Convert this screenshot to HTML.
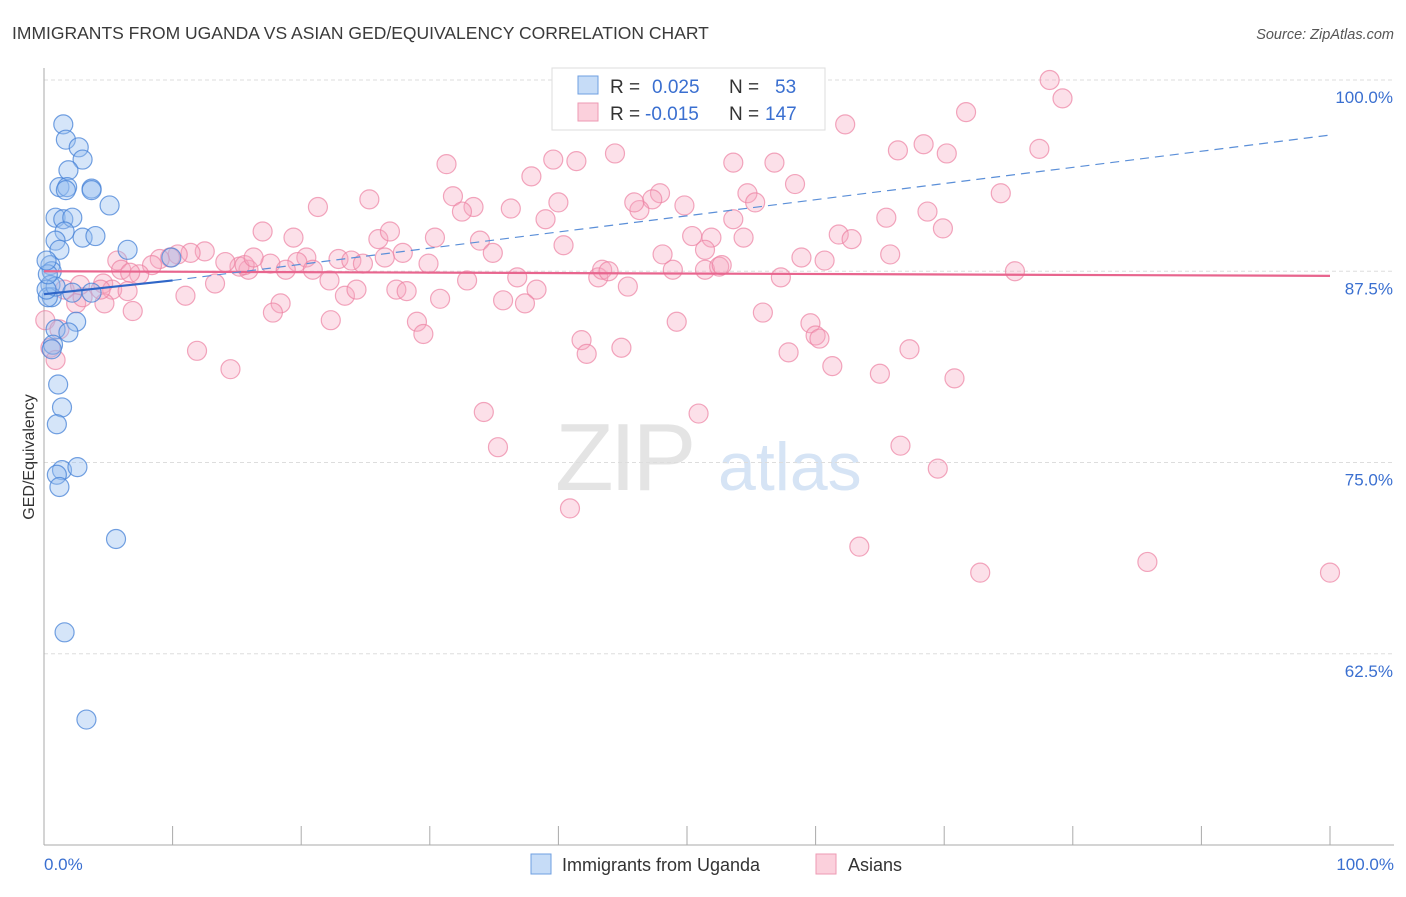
<!DOCTYPE html>
<html><head><meta charset="utf-8"><style>
body{margin:0;background:#fff;font-family:"Liberation Sans",sans-serif;}
svg text{font-family:"Liberation Sans",sans-serif;}
</style></head><body>
<svg id="chart" width="1406" height="892" viewBox="0 0 1406 892" xmlns="http://www.w3.org/2000/svg">
<text x="12" y="39" font-size="17.5" fill="#3a3a3a">IMMIGRANTS FROM UGANDA VS ASIAN GED/EQUIVALENCY CORRELATION CHART</text>
<text x="1394" y="39" font-size="14.5" fill="#555" font-style="italic" text-anchor="end">Source: ZipAtlas.com</text>
<g>
<text x="555" y="490" font-size="96" fill="#e4e4e4" font-family="Liberation Serif" letter-spacing="-4">ZIP</text>
<text x="718" y="490" font-size="68" fill="#d6e4f5">atlas</text>
</g>
<g id="grid"></g>
<g id="axes"></g>
<g id="pinkPts"></g>
<g id="bluePts"></g>
<g id="trends"></g>
<text transform="translate(34,457) rotate(-90)" font-size="16" fill="#333" text-anchor="middle">GED/Equivalency</text>
<g>
<rect x="552" y="68" width="273" height="62" fill="#fff" stroke="#ddd"/>
<rect x="578" y="76" width="20" height="18" fill="#c6dcf7" stroke="#6f9fe0"/>
<rect x="578" y="103" width="20" height="18" fill="#fbd0dc" stroke="#ee9ab3"/>
<text x="610" y="93" font-size="19" fill="#333">R = </text><text x="652" y="93" font-size="19" fill="#3a6fd0">0.025</text>
<text x="729" y="93" font-size="19" fill="#333">N = </text><text x="775" y="93" font-size="19" fill="#3a6fd0">53</text>
<text x="610" y="120" font-size="19" fill="#333">R = </text><text x="645" y="120" font-size="19" fill="#3a6fd0">-0.015</text>
<text x="729" y="120" font-size="19" fill="#333">N = </text><text x="765" y="120" font-size="19" fill="#3a6fd0">147</text>
</g>
<g>
<rect x="531" y="854" width="20" height="20" fill="#c6dcf7" stroke="#6f9fe0"/>
<text x="562" y="871" font-size="18" fill="#333">Immigrants from Uganda</text>
<rect x="816" y="854" width="20" height="20" fill="#fbd0dc" stroke="#ee9ab3"/>
<text x="848" y="871" font-size="18" fill="#333">Asians</text>
</g>
</svg>
<script>
const yTicks=[100,87.5,75,62.5];
const yTickLabels=["100.0%","87.5%","75.0%","62.5%"];
const xTickLabels=["0.0%","100.0%"];
const blueX=[1.5,1.7,2.7,3.0,1.9,1.2,1.8,1.7,3.7,3.7,5.1,0.9,1.5,2.2,1.6,0.9,3.0,4.0,1.2,6.5,9.9,0.5,0.6,0.5,0.6,0.3,0.9,2.2,3.7,2.5,0.9,1.9,0.7,0.6,1.1,1.4,1.0,1.4,2.6,1.0,1.2,5.6,1.6,3.3,0.2,0.3,0.2];
const blueY=[97.1,96.1,95.6,94.8,94.1,93.0,93.0,92.8,92.9,92.8,91.8,91.0,90.9,91.0,90.1,89.5,89.7,89.8,88.9,88.9,88.4,87.9,87.5,86.6,85.8,85.8,86.5,86.1,86.1,84.2,83.7,83.5,82.7,82.4,80.1,78.6,77.5,74.5,74.7,74.2,73.4,70.0,63.9,58.2,86.3,87.3,88.2];
const pinkX=[78.2,79.2,71.7,62.3,77.4,68.4,66.4,70.2,53.6,56.8,44.4,39.6,41.4,31.3,37.9,58.4,54.7,55.3,74.4,47.9,47.3,46.3,45.9,49.8,53.6,65.5,68.7,69.9,25.3,31.8,33.4,32.5,36.3,39.0,40.0,21.3,17.0,19.4,26.0,26.9,30.4,33.9,40.4,50.4,51.9,54.4,61.8,62.8,34.9,27.9,26.5,22.9,23.9,24.8,20.4,19.7,17.6,18.8,20.9,15.9,15.2,14.1,12.5,11.4,10.4,9.8,9.0,8.4,5.7,6.0,7.4,6.7,4.6,5.3,6.5,4.7,2.5,3.0,6.9,11.0,13.3,15.6,16.3,22.2,23.4,24.3,27.4,28.2,29.9,30.8,32.9,35.7,36.8,38.3,37.4,43.1,43.4,43.9,45.4,48.9,51.4,48.1,51.4,52.5,52.7,57.3,58.9,60.7,65.8,75.5,18.4,17.8,22.3,29.0,29.5,41.8,42.2,44.9,49.2,55.9,57.9,59.6,60.0,60.3,61.3,65.0,67.3,70.8,11.9,14.5,34.2,35.3,50.9,66.6,69.5,40.9,63.4,72.8,85.8,100.0,0.1,0.5,1.2,0.9,1.6,4.4,2.8];
const pinkY=[100.0,98.8,97.9,97.1,95.5,95.8,95.4,95.2,94.6,94.6,95.2,94.8,94.7,94.5,93.7,93.2,92.6,92.0,92.6,92.6,92.2,91.5,92.0,91.8,90.9,91.0,91.4,90.3,92.2,92.4,91.7,91.4,91.6,90.9,92.0,91.7,90.1,89.7,89.6,90.1,89.7,89.5,89.2,89.8,89.7,89.7,89.9,89.6,88.7,88.7,88.4,88.3,88.2,88.0,88.4,88.1,88.0,87.6,87.6,87.6,87.8,88.1,88.8,88.7,88.6,88.4,88.3,87.9,88.2,87.6,87.3,87.4,86.7,86.3,86.2,85.4,85.4,85.8,84.9,85.9,86.7,87.9,88.4,86.9,85.9,86.3,86.3,86.2,88.0,85.7,86.9,85.6,87.1,86.3,85.4,87.1,87.6,87.5,86.5,87.6,87.6,88.6,88.9,87.8,87.9,87.1,88.4,88.2,88.6,87.5,85.4,84.8,84.3,84.2,83.4,83.0,82.1,82.5,84.2,84.8,82.2,84.1,83.3,83.1,81.3,80.8,82.4,80.5,82.3,81.1,78.3,76.0,78.2,76.1,74.6,72.0,69.5,67.8,68.5,67.8,84.3,82.5,83.7,81.7,86.3,86.3,86.6];
const blueTrend=[86.0,86.9,96.4];   // y at x=0, x=10 (solid end), x=100
const pinkTrend=[87.5,87.2];        // y at x=0, x=100
const NS="http://www.w3.org/2000/svg";
const X=v=>44+v*12.86;
const Y=v=>80+(100-v)*15.3;
function mk(tag,attrs,parent){const e=document.createElementNS(NS,tag);for(const k in attrs)e.setAttribute(k,attrs[k]);parent.appendChild(e);return e;}
const grid=document.getElementById('grid'),axes=document.getElementById('axes');
yTicks.forEach((t,i)=>{
 const l=mk('line',{x1:44,x2:1394,y1:Y(t),y2:Y(t),stroke:'#ddd','stroke-dasharray':'4,3'},grid);
 
 
 const tx=mk('text',{x:1393,y:Y(t)+23,'font-size':17,fill:'#3a6fd0','text-anchor':'end'},axes);
 tx.textContent=yTickLabels[i];
 
 
});
mk('line',{x1:44,x2:44,y1:68,y2:845,stroke:'#aaa'},axes);
mk('line',{x1:44,x2:1394,y1:845,y2:845,stroke:'#aaa'},axes);
for(let i=0;i<=10;i++){const t=mk('line',{x1:X(i*10),x2:X(i*10),y1:826,y2:845,stroke:'#aaa'},axes);
 
 }
const xl0=mk('text',{x:44,y:870,'font-size':17,fill:'#3a6fd0'},axes);xl0.textContent=xTickLabels[0];


const xl1=mk('text',{x:1394,y:870,'font-size':17,fill:'#3a6fd0','text-anchor':'end'},axes);xl1.textContent=xTickLabels[1];


const pg=document.getElementById('pinkPts');
pinkX.forEach((v,i)=>{const c=mk('circle',{cx:X(v),cy:Y(pinkY[i]),r:9.5,fill:'rgba(246,166,191,0.35)',stroke:'rgba(236,130,162,0.7)','stroke-width':1.2},pg);
 
 });
const bg=document.getElementById('bluePts');
blueX.forEach((v,i)=>{const c=mk('circle',{cx:X(v),cy:Y(blueY[i]),r:9.5,fill:'rgba(150,190,240,0.4)',stroke:'rgba(70,130,215,0.75)','stroke-width':1.2},bg);
 
 });
const tg=document.getElementById('trends');
const pl=mk('line',{x1:X(0),y1:Y(pinkTrend[0]),x2:X(100),y2:Y(pinkTrend[1]),stroke:'#e8658e','stroke-width':2.2},tg);


const bd=mk('line',{x1:X(10),y1:Y(blueTrend[1]),x2:X(100),y2:Y(blueTrend[2]),stroke:'#5b8fd8','stroke-width':1.2,'stroke-dasharray':'9,6'},tg);


const bs=mk('line',{x1:X(0),y1:Y(blueTrend[0]),x2:X(10),y2:Y(blueTrend[1]),stroke:'#2f66c8','stroke-width':2.2},tg);


</script>
</body></html>
